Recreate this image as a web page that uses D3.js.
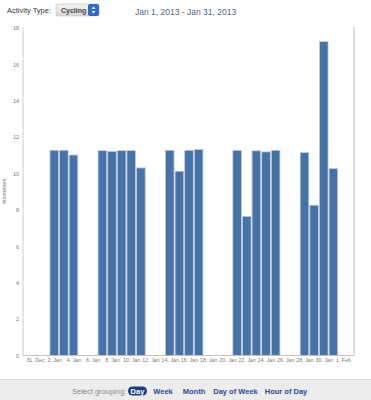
<!DOCTYPE html>
<html>
<head>
<meta charset="utf-8">
<script src="https://cdn.jsdelivr.net/npm/d3@7"></script>
<style>
  body { margin: 0; background: #fff; font-family: "Liberation Sans", Arial, sans-serif; }
  #chart { position: relative; width: 371px; height: 400px; overflow: hidden; }
</style>
</head>
<body>
<div id="chart"></div>
<script>
const width = 371;
const height = 400;

// ride distances per day (km), only days with a ride
const days = ["2013-01-02", "2013-01-03", "2013-01-04",
	"2013-01-07", "2013-01-08", "2013-01-09", "2013-01-10", "2013-01-11",
	"2013-01-14", "2013-01-15", "2013-01-16", "2013-01-17",
	"2013-01-21", "2013-01-22", "2013-01-23", "2013-01-24", "2013-01-25",
	"2013-01-28", "2013-01-29", "2013-01-30", "2013-01-31"];
const km = [11.28, 11.28, 11.02,
	11.26, 11.22, 11.26, 11.26, 10.31,
	11.28, 10.13, 11.28, 11.32,
	11.28, 7.65, 11.25, 11.19, 11.28,
	11.15, 8.26, 17.25, 10.28];
const yTicks = [0, 2, 4, 6, 8, 10, 12, 14, 16, 18];
const groupings = ["Day", "Week", "Month", "Day of Week", "Hour of Day"];

const parse = d3.timeParse("%Y-%m-%d");
const data = days.map((d, i) => ({ date: parse(d), km: km[i] }));

const svg = d3.select("#chart")
	.append("svg")
	.attr("width", width)
	.attr("height", height)
	.style("font-family", '"Liberation Sans", Arial, sans-serif');

// header
svg.append("text")
	.attr("x", 7).attr("y", 13)
	.style("font-size", "7.5px").style("fill", "#333")
	.text("Activity Type:");

const grad = svg.append("defs").append("linearGradient")
	.attr("id", "selbg").attr("x1", 0).attr("x2", 0).attr("y1", 0).attr("y2", 1);
grad.append("stop").attr("offset", "0%").attr("stop-color", "#f4f4f4");
grad.append("stop").attr("offset", "100%").attr("stop-color", "#d8d8d8");

svg.append("rect")
	.attr("x", 56).attr("y", 4).attr("width", 43).attr("height", 12).attr("rx", 2)
	.attr("fill", "url(#selbg)").attr("stroke", "#bbb").attr("stroke-width", 0.6);
svg.append("rect")
	.attr("x", 88).attr("y", 4).attr("width", 11).attr("height", 12).attr("rx", 2)
	.attr("fill", "#2f6bc4");
svg.append("path").attr("d", "M91.5,9 L93.5,6.5 L95.5,9 Z").attr("fill", "#fff");
svg.append("path").attr("d", "M91.5,11 L93.5,13.5 L95.5,11 Z").attr("fill", "#fff");
svg.append("text")
	.attr("x", 61).attr("y", 12.8)
	.style("font-size", "7px").style("font-weight", "bold").style("fill", "#444")
	.text("Cycling");

svg.append("text")
	.attr("x", 135).attr("y", 15)
	.style("font-size", "8.5px").style("fill", "#4d6488")
	.text("Jan 1, 2013 - Jan 31, 2013");

// plot
const plot = { left: 23, right: 354, top: 28, bottom: 355.5 };

const x = d3.scaleTime()
	.domain([parse("2012-12-31"), parse("2013-02-01")])
	.range([35, 343]);

const y = d3.scaleLinear()
	.domain([0, 18])
	.range([plot.bottom, plot.top]);

const dayW = x(parse("2013-01-02")) - x(parse("2013-01-01"));

svg.append("g")
	.selectAll("rect")
	.data(data)
	.enter()
	.append("rect")
	.attr("x", d => x(d.date) - dayW / 2 + 0.5)
	.attr("y", d => y(d.km))
	.attr("width", dayW - 1)
	.attr("height", d => y(0) - y(d.km))
	.attr("fill", "#4572a7")
	.attr("stroke", "#c9cdd4")
	.attr("stroke-width", 0.8);

// frame lines
svg.append("line")
	.attr("x1", plot.left).attr("x2", plot.left)
	.attr("y1", plot.top - 1).attr("y2", plot.bottom)
	.attr("stroke", "#d6d6d6").attr("stroke-width", 1.2);
svg.append("line")
	.attr("x1", plot.right).attr("x2", plot.right)
	.attr("y1", plot.top - 1).attr("y2", plot.bottom)
	.attr("stroke", "#b8b8b8").attr("stroke-width", 1);
svg.append("line")
	.attr("x1", plot.left).attr("x2", plot.right)
	.attr("y1", plot.bottom).attr("y2", plot.bottom)
	.attr("stroke", "#c0c0c0").attr("stroke-width", 1);

// y axis labels
const yAxis = d3.axisLeft(y).tickValues(yTicks).tickSize(0).tickPadding(0);
const gy = svg.append("g")
	.attr("transform", `translate(${plot.left - 4},0)`)
	.call(yAxis);
gy.select(".domain").remove();
gy.selectAll("text")
	.style("font-size", "5.5px")
	.style("fill", "#777")
	.style("font-family", '"Liberation Sans", Arial, sans-serif');

svg.append("text")
	.attr("transform", "translate(6,191) rotate(-90)")
	.attr("text-anchor", "middle")
	.style("font-size", "5.5px").style("fill", "#777")
	.text("kilometers");

// x axis labels
const xTicks = d3.range(0, 17).map(i => d3.timeDay.offset(parse("2012-12-31"), i * 2));
const fmt = d3.timeFormat("%b");
const xAxis = d3.axisBottom(x)
	.tickValues(xTicks)
	.tickSize(0)
	.tickPadding(0)
	.tickFormat(d => d.getDate() + ". " + fmt(d));
const gx = svg.append("g")
	.attr("transform", `translate(0,${plot.bottom + 3})`)
	.call(xAxis);
gx.select(".domain").remove();
gx.selectAll("text")
	.style("font-size", "5.3px")
	.style("fill", "#777")
	.style("font-family", '"Liberation Sans", Arial, sans-serif');

// footer
svg.append("rect")
	.attr("x", 0).attr("y", 379.5).attr("width", width).attr("height", 21)
	.attr("fill", "#ececec");
svg.append("line")
	.attr("x1", 0).attr("x2", width).attr("y1", 379.5).attr("y2", 379.5)
	.attr("stroke", "#d4d4d4");

svg.append("text")
	.attr("x", 72).attr("y", 394)
	.style("font-size", "7.5px").style("fill", "#888")
	.text("Select grouping:");

const gxPos = [137.5, 163, 194, 235.5, 286];
svg.append("rect")
	.attr("x", 128).attr("y", 386.5).attr("width", 19).attr("height", 9).attr("rx", 4.5)
	.attr("fill", "#163f80");

svg.append("g")
	.selectAll("text")
	.data(groupings)
	.enter()
	.append("text")
	.attr("x", (d, i) => gxPos[i])
	.attr("y", 394)
	.attr("text-anchor", "middle")
	.style("font-size", "7.5px")
	.style("font-weight", "bold")
	.style("fill", (d, i) => i == 0 ? "#fff" : "#2b4a9b")
	.text(d => d);
</script>
</body>
</html>
